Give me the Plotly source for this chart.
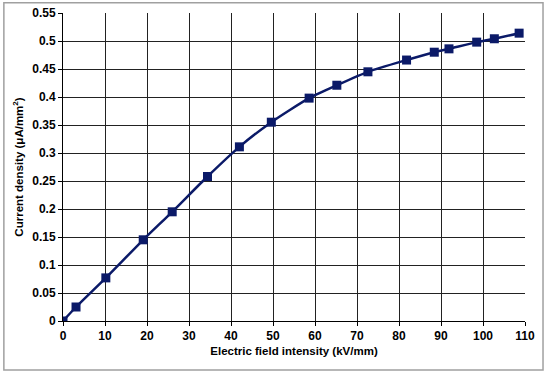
import plotly.graph_objects as go

field = [0, 3.1, 10.2, 19.1, 26.0, 34.4, 42.0, 49.6, 58.6, 65.2, 72.6, 81.8, 88.4, 91.9, 98.5, 102.7, 108.6]
current = [0, 0.025, 0.077, 0.145, 0.195, 0.258, 0.311, 0.355, 0.398, 0.421, 0.445, 0.466, 0.480, 0.486, 0.498, 0.504, 0.514]

navy = "#0B1A68"
fnt = "Liberation Sans, Arial, sans-serif"

fig = go.Figure(go.Scatter(
    x=field, y=current, mode="lines+markers",
    line=dict(color=navy, width=2.5, shape="spline", smoothing=0.6),
    marker=dict(symbol="square", size=9, color=navy),
))

fig.update_layout(
    width=550, height=374,
    margin=dict(l=63, r=25, t=13, b=53, autoexpand=False),
    paper_bgcolor="white", plot_bgcolor="white",
    showlegend=False,
    font=dict(family=fnt, color="black"),
    shapes=[dict(type="rect", xref="paper", yref="paper",
                 x0=-0.128, x1=1.039, y0=-0.159, y1=1.033,
                 line=dict(color="#A0A0A0", width=1.5), layer="below")],
)
fig.update_xaxes(
    range=[0, 110], dtick=10, tick0=0, automargin=False,
    showgrid=True, gridcolor="#222222", gridwidth=1,
    showline=True, linecolor="black", linewidth=1,
    ticks="outside", ticklen=4, tickcolor="black",
    zeroline=False,
    tickfont=dict(family=fnt, size=12, color="black", weight="bold"),
    title=dict(text="<b>Electric field intensity (kV/mm)</b>", font=dict(family=fnt, size=11.5), standoff=4),
)
fig.update_yaxes(
    range=[0, 0.55], dtick=0.05, tick0=0, automargin=False,
    showgrid=True, gridcolor="#222222", gridwidth=1,
    showline=True, linecolor="black", linewidth=1,
    ticks="outside", ticklen=4, tickcolor="black",
    zeroline=False,
    tickfont=dict(family=fnt, size=12, color="black", weight="bold"),
    title=dict(text="<b>Current density (μA/mm<sup>2</sup>)</b>", font=dict(family=fnt, size=11.5), standoff=6),
)

fig.write_html("out.html", config={"displayModeBar": False},
               post_script="document.body.style.margin='0';document.body.style.overflow='hidden';")
